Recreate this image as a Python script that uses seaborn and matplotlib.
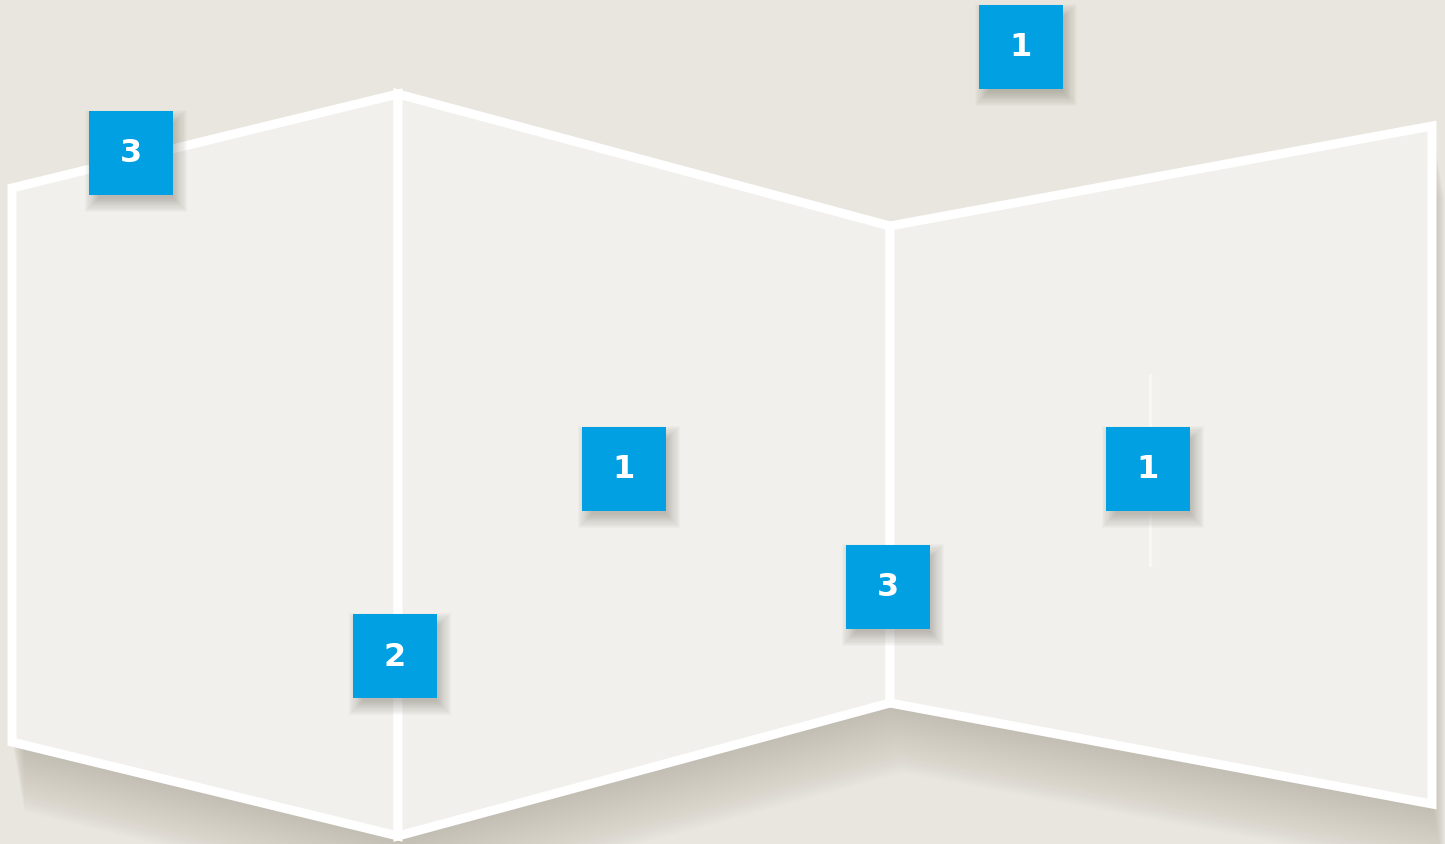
import numpy as np
import pandas as pd
import matplotlib
matplotlib.use("Agg")
import matplotlib.pyplot as plt
import seaborn as sns

# folded map: three panels, corners in pixel space (x right, y down)
panel_names = ["left", "middle", "right"]
panel_x = [[12, 398, 398, 12], [398, 890, 890, 398], [890, 1432, 1432, 890]]
panel_y = [[188, 94, 836, 742], [94, 226, 703, 836], [226, 126, 804, 703]]

# numbered markers
marker_labels = ["1", "3", "1", "1", "3", "2"]
marker_x = [1021, 131, 624, 1148, 888, 395]
marker_y = [47, 153, 469, 469, 587, 656]

BG = "#e9e6df"
PANEL = "#f1f0ec"
BLUE = "#00a0e3"

sns.set_theme(style="white")
plt.rcParams['font.family'] = ['DejaVu Sans']

fig = plt.figure(figsize=(14.45, 8.44), dpi=100, facecolor=BG)
ax = fig.add_axes([0, 0, 1, 1])
ax.set_facecolor(BG)
ax.set_xlim(0, 1445)
ax.set_ylim(844, 0)
ax.axis("off")

# outline of the whole sheet (top edges then bottom edges reversed)
outline_x = [px[0] for px in panel_x] + [panel_x[-1][1]] + \
    [panel_x[-1][2]] + [px[3] for px in panel_x[::-1]]
outline_y = [py[0] for py in panel_y] + [panel_y[-1][1]] + \
    [panel_y[-1][2]] + [py[3] for py in panel_y[::-1]]

# soft shadow under the sheet
for k in range(1, 36):
    ax.fill(np.array(outline_x) + k * 0.35, np.array(outline_y) + k * 2.0,
            color="#8a8476", alpha=0.011, lw=0, zorder=1)

# panels with white border
for px, py in zip(panel_x, panel_y):
    ax.fill(px, py, facecolor=PANEL, edgecolor="white", lw=6.5,
            joinstyle="miter", zorder=2)

# faint crease line on the right panel
ax.plot([1150, 1150], [375, 565], color="white", lw=2.5, alpha=0.5, zorder=3)

markers = pd.DataFrame({"label": marker_labels, "x": marker_x, "y": marker_y})

# marker shadows (blurred)
for k in range(1, 15):
    ax.scatter(markers["x"] + 5, markers["y"] + 8, s=(52 + k * 1.5) ** 2,
               marker="s", color="#5a5548", alpha=0.028, lw=0, zorder=4)

sns.scatterplot(data=markers, x="x", y="y", marker="s", s=60 ** 2,
                color=BLUE, linewidth=0, ax=ax, zorder=5, legend=False)

for _, r in markers.iterrows():
    ax.text(r["x"], r["y"] + 1, r["label"], color="white", fontsize=23,
            fontweight="bold", ha="center", va="center", zorder=6)

ax.set_xlim(0, 1445)
ax.set_ylim(844, 0)
fig.savefig("out.png", dpi=100, facecolor=BG)
